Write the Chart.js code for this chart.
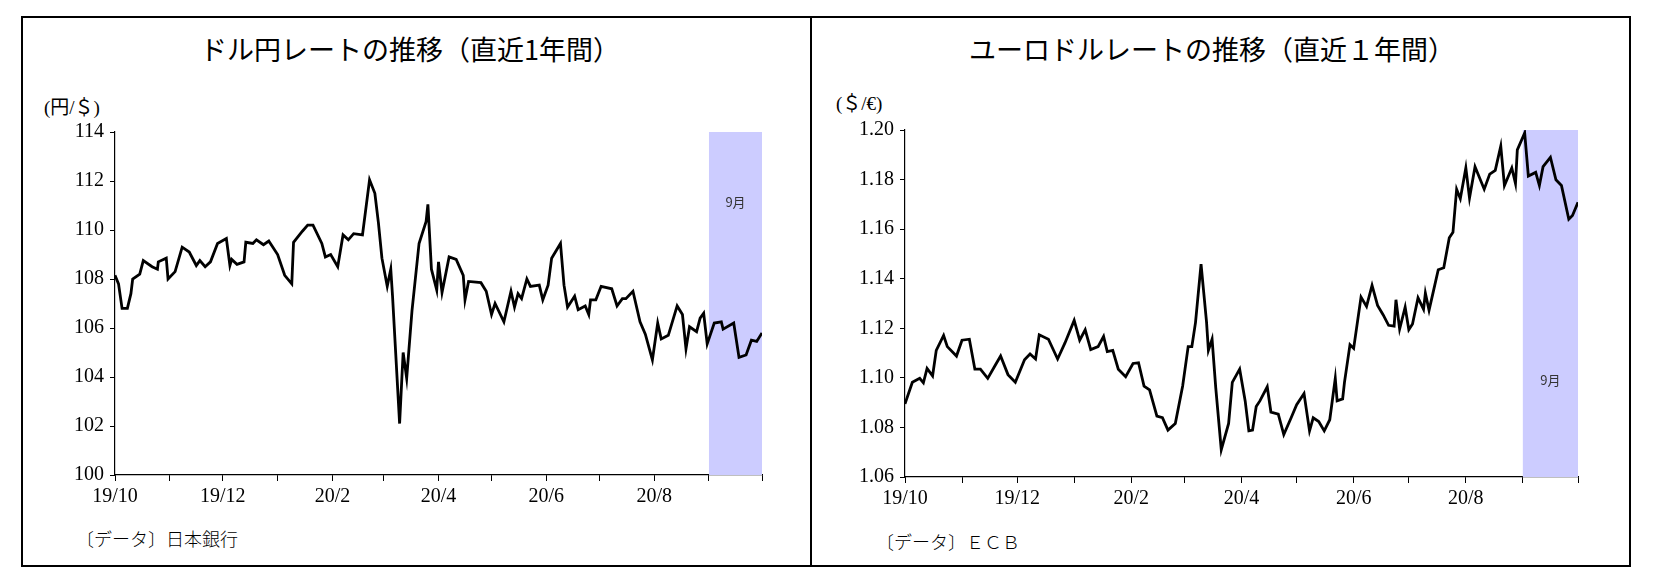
<!DOCTYPE html>
<html><head><meta charset="utf-8">
<script src="https://cdn.jsdelivr.net/npm/chart.js@4"></script>
<style>
body{margin:0;width:1654px;height:585px;background:#fff;position:relative;overflow:hidden;font-family:"Noto Sans CJK JP",sans-serif}
.frame{position:absolute;left:21px;top:16px;width:1606px;height:547px;border:2px solid #000}
.div{position:absolute;left:810px;top:16px;width:2px;height:551px;background:#000}
.t{position:absolute;color:#000;white-space:nowrap}
.title{font-size:27px;transform:translateX(-50%)}
.unit{font-family:"Liberation Serif","Noto Sans CJK JP",serif;font-size:19px}
.src{font-size:18px;font-family:"Noto Sans CJK JP";font-weight:300}
canvas{position:absolute;left:0;top:0}
</style></head><body>
<div class="frame"></div><div class="div"></div>
<div class="t title" style="left:410px;top:29px">ドル円レートの推移（直近1年間）</div>
<div class="t title" style="left:1212px;top:29px">ユーロドルレートの推移（直近１年間）</div>
<div class="t unit" style="left:44px;top:92px">(円/＄)</div>
<div class="t unit" style="left:836px;top:88px">(＄/€)</div>
<div class="t src" style="left:76px;top:525px">〔データ〕日本銀行</div>
<div class="t src" style="left:876px;top:528px">〔データ〕ＥＣＢ</div>
<div id="w1" style="position:absolute;left:0;top:0;width:811px;height:585px"><canvas id="c1"></canvas></div>
<div id="w2" style="position:absolute;left:811px;top:0;width:843px;height:585px"><canvas id="c2"></canvas></div>
<script>
// day offsets from 2019-10-01
const monthTicks=[0,31,61,92,123,152,183,213,244,274,305,336,366];
const monthLabels={0:'19/10',61:'19/12',123:'20/2',183:'20/4',244:'20/6',305:'20/8'};
const septStart=336, septEnd=366;
const jpyDays=[0,2,4,7,9,10,14,16,21,24,24.5,29,30,34,38,42,46,48,51,54,58,63,65,66,69,73,74,78,80,84,87,92,96,100,101,106,109,112,117,119,122,126,129,132,135,140,144,147,149,151,154,156,157,161,163,165,168,172,176,177,179,182,183,185,189,193,197,198,200,207,210,213,215,220,224,226,228,230,233,235,240,242,245,247,252,254,256,260,262,266,268,269,272,275,281,284,287,289,293,297,300,304,307,309,313,318,321,323,325,329,331,333,335,339,343,344,350,353,357,360,363,366];
const jpyVals=[108.15,107.8,106.8,106.8,107.4,108.0,108.2,108.75,108.5,108.4,108.7,108.85,108.0,108.3,109.3,109.1,108.55,108.75,108.5,108.7,109.45,109.65,108.55,108.8,108.6,108.7,109.5,109.45,109.6,109.4,109.55,109.0,108.15,107.8,109.5,109.95,110.2,110.2,109.45,108.9,109.0,108.5,109.8,109.6,109.85,109.8,112.05,111.5,110.3,108.85,107.7,108.4,107.3,102.1,105.0,103.95,106.7,109.45,110.35,111.05,108.4,107.55,108.7,107.45,108.9,108.8,108.15,107.15,107.9,107.85,107.5,106.55,107.0,106.25,107.5,106.85,107.4,107.2,108.0,107.7,107.75,107.15,107.75,108.85,109.45,107.75,106.85,107.3,106.75,106.9,106.55,107.15,107.15,107.7,107.6,106.9,107.2,107.2,107.5,106.25,105.75,104.7,106.2,105.55,105.7,106.9,106.55,105.15,106.05,105.85,106.4,106.6,105.35,106.2,106.25,105.95,106.2,104.8,104.9,105.5,105.45,105.8];
const eurDays=[0,4,8,10,12,15,17,21,23,28,31,35,38,41,45,49,52,56,60,65,68,71,73,78,83,87,92,95,98,101,105,108,110,113,116,120,124,127,130,133,137,140,143,147,151,154,156,158,161,164,165,167,169,172,176,178,182,185,187,189,191,193,197,199,203,206,210,213,217,220,222,225,228,231,234,235,238,239,242,244,248,251,254,257,260,263,266,267,269,272,274,276,279,282,283,285,287,290,293,296,298,300,302,305,307,310,315,318,321,324,326,330,332,333,337,339,343,345,347,351,354,357,361,363,366];
const eurVals=[1.0895,1.0982,1.0998,1.098,1.1038,1.1008,1.1111,1.1171,1.1126,1.1088,1.1152,1.1156,1.1035,1.1035,1.0998,1.105,1.1088,1.1013,1.0982,1.1073,1.1096,1.1076,1.1174,1.1156,1.1076,1.1141,1.1232,1.1152,1.1194,1.1114,1.1126,1.1167,1.1106,1.1111,1.1035,1.1005,1.1058,1.1061,1.0967,1.0952,1.0846,1.0839,1.0789,1.0816,1.0967,1.1126,1.1126,1.1224,1.1459,1.1224,1.1111,1.1156,1.096,1.071,1.0816,1.0982,1.1035,1.0907,1.0786,1.0789,1.0884,1.0907,1.0964,1.0862,1.0854,1.0771,1.0839,1.0892,1.0937,1.0786,1.0839,1.0824,1.0786,1.0831,1.0998,1.0907,1.0915,1.0982,1.1134,1.1119,1.1326,1.1288,1.1373,1.1292,1.1255,1.1212,1.1209,1.1315,1.1197,1.1285,1.1194,1.1217,1.1323,1.1277,1.1342,1.1273,1.1338,1.1436,1.1444,1.1565,1.1587,1.1761,1.1723,1.1847,1.1726,1.1852,1.1761,1.1822,1.1837,1.1935,1.1776,1.1847,1.1784,1.192,1.1988,1.1814,1.1829,1.1776,1.1852,1.189,1.1799,1.1776,1.164,1.1655,1.1708];

const shade={id:'shade',beforeDatasetsDraw(c){const x=c.scales.x,ctx=c.ctx;
 const a=x.getPixelForValue(septStart),b=x.getPixelForValue(septEnd);
 ctx.save();ctx.fillStyle='#ccccff';ctx.fillRect(a,c.chartArea.top,b-a,c.chartArea.bottom-c.chartArea.top);
 ctx.fillStyle='#333';ctx.font='13px "Noto Sans CJK JP"';ctx.textAlign='center';ctx.textBaseline='middle';
 ctx.fillText('9月',(a+b)/2,c.options.plugins.shade.labelY);ctx.restore();}};

function make(id,days,vals,ymin,ymax,step,dec,padL,yW,padT,padR,padB,labelY){
 return new Chart(document.getElementById(id),{type:'line',
  data:{datasets:[{data:days.map((d,i)=>({x:d,y:vals[i]})),borderColor:'#000',borderWidth:2.8,pointRadius:0,tension:0}]},
  options:{responsive:true,maintainAspectRatio:false,animation:false,
   layout:{padding:{left:padL,top:padT,right:padR,bottom:padB}},
   plugins:{legend:{display:false},tooltip:{enabled:false},shade:{labelY}},
   scales:{
    x:{type:'linear',min:0,max:366,
     afterBuildTicks(s){s.ticks=monthTicks.map(v=>({value:v}));},
     afterFit(s){s.height=38;},
     ticks:{autoSkip:false,maxRotation:0,color:'#000',padding:4,font:{family:'"Liberation Serif"',size:20},callback:v=>monthLabels[v]||''},
     grid:{drawOnChartArea:false,drawTicks:true,tickLength:6,color:'#000'},border:{color:'#000',width:1.2}},
    y:{min:ymin,max:ymax,
     afterBuildTicks(s){const t=[];for(let v=ymin;v<=ymax+1e-9;v+=step)t.push({value:+v.toFixed(4)});s.ticks=t;},
     afterFit(s){s.width=yW;},
     ticks:{color:'#000',padding:6,font:{family:'"Liberation Serif"',size:20},callback:v=>(+v).toFixed(dec)},
     grid:{drawOnChartArea:false,drawTicks:true,tickLength:5,color:'#000'},border:{color:'#000',width:1.2}}
   }},plugins:[shade]});
}
make('c1',jpyDays,jpyVals,100,114,2,0,45,70,132,49,72,202);
make('c2',eurDays,eurVals,1.06,1.20,0.02,2,2,92,130,76,70,380);
</script></body></html>
